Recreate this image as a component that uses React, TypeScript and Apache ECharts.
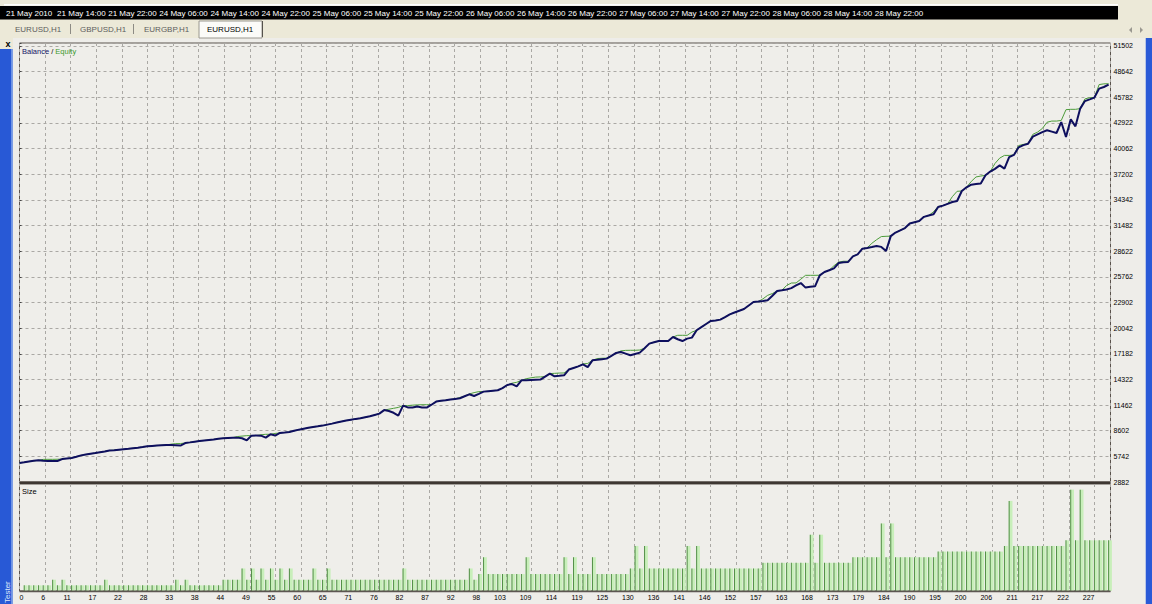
import React, { useEffect, useRef } from "react";
import * as echarts from "echarts";

const xTickLabels = ["0","6","11","17","22","28","33","38","44","49","55","60","65","71","76","82","87","92","98","103","109","114","119","125","130","136","141","146","152","157","163","168","173","179","184","190","195","200","206","211","217","222","227"];

const timeLabels = ["21 May 2010","21 May 14:00","21 May 22:00","24 May 06:00","24 May 14:00","24 May 22:00","25 May 06:00","25 May 14:00","25 May 22:00","26 May 06:00","26 May 14:00","26 May 22:00","27 May 06:00","27 May 14:00","27 May 22:00","28 May 06:00","28 May 14:00","28 May 22:00"];

const tabLabels = ["EURUSD,H1","GBPUSD,H1","EURGBP,H1","EURUSD,H1"];

// Balance (navy) per trade number 0..230
const balance = [
5000,5080,5180,5240,5300,5250,5230,5230,5220,5440,
5500,5560,5700,5850,5940,6030,6110,6200,6290,6400,
6430,6480,6530,6580,6650,6710,6780,6860,6900,6940,
6980,7010,7020,6990,6940,7230,7300,7380,7450,7510,
7570,7630,7700,7750,7800,7830,7830,7760,7530,8050,
8060,8050,7830,8200,8060,8350,8400,8460,8590,8720,
8820,8920,9020,9090,9170,9280,9390,9520,9630,9740,
9830,9920,9990,10100,10210,10360,10510,10900,10800,10600,
10290,11400,11200,11180,11300,11200,11180,11500,11850,11930,
12000,12080,12150,12220,12440,12660,12470,12700,12960,13010,
13060,13110,13350,13700,13800,13550,14220,14240,14260,14280,
14300,14640,14970,14670,14720,14780,15420,15600,15780,16000,
15700,16450,16510,16580,16640,16950,17270,17380,17200,17010,
17160,17310,17800,18310,18460,18600,18600,18600,19050,18800,
18600,18870,18980,19800,20150,20500,20840,20900,20990,21280,
21580,21780,21980,22170,22560,22950,23000,23060,23140,23650,
24180,24260,24350,24500,24800,25070,24560,24650,24700,25930,
26300,26500,26700,27300,27380,27420,28050,28270,28900,28980,
29080,29200,29100,28640,30300,30700,30950,31200,31700,31850,
31980,32450,32600,32730,33550,33700,33900,34100,34220,35330,
35750,36040,36100,36160,37080,37500,37800,38190,37830,39100,
39350,40200,40450,40610,41400,41650,41900,42100,41950,41800,
43020,41350,43320,42540,44520,45360,45550,45750,46750,46930,
47190];

// Equity (green) per trade number 0..230
const equity = [
5000,5080,5180,5240,5300,5400,5410,5410,5420,5440,
5500,5560,5700,5850,5940,6030,6110,6200,6290,6400,
6430,6480,6530,6580,6650,6710,6780,6860,6900,6940,
6980,7010,7100,7160,7170,7230,7300,7380,7450,7510,
7570,7630,7700,7750,7800,7830,7950,8000,8050,8050,
8060,8150,8200,8200,8300,8350,8400,8460,8590,8720,
8820,8920,9020,9090,9170,9280,9390,9520,9630,9740,
9830,9920,9990,10100,10210,10360,10510,10900,11000,11100,
11200,11400,11400,11450,11480,11500,11500,11500,11850,11930,
12000,12080,12150,12300,12440,12700,12850,12960,12960,13010,
13060,13110,13350,13700,13900,14000,14220,14400,14500,14580,
14600,14640,14970,15000,15030,15040,15420,15600,15780,16050,
16100,16450,16650,16680,16700,16950,17270,17500,17560,17570,
17570,17600,17800,18310,18460,18600,18600,18600,19050,19240,
19240,19240,19600,19800,20150,20500,20840,20900,20990,21280,
21580,21780,21980,22170,22560,22950,23000,23300,23700,23900,
24180,24260,24800,25070,25080,25500,25930,25930,25930,25940,
26300,26500,27000,27400,27500,27500,28050,28270,28900,28980,
29500,29900,30250,30280,30300,30700,30950,31200,31700,31850,
31980,32450,32600,33000,33600,33700,33900,34700,35300,35330,
35750,36400,36900,37000,37080,37500,38400,39000,39300,39300,
39350,40400,40530,40610,41650,41900,42300,43000,43130,43130,
43200,44400,44440,44440,44520,45600,45740,45750,47200,47280,
47300];

// Lot size per trade number 1..230
const sizes = [
0.1,0.1,0.1,0.1,0.1,0.1,0.2,0.1,0.2,0.1,
0.1,0.1,0.1,0.1,0.1,0.1,0.1,0.2,0.1,0.1,
0.1,0.1,0.1,0.1,0.1,0.1,0.1,0.1,0.1,0.1,
0.1,0.1,0.2,0.1,0.2,0.1,0.1,0.1,0.1,0.1,
0.1,0.1,0.2,0.2,0.2,0.2,0.4,0.2,0.4,0.2,
0.4,0.2,0.4,0.2,0.4,0.2,0.4,0.2,0.2,0.2,
0.2,0.4,0.2,0.2,0.4,0.2,0.2,0.2,0.2,0.2,
0.2,0.2,0.2,0.2,0.2,0.2,0.2,0.2,0.2,0.2,
0.4,0.2,0.2,0.2,0.2,0.2,0.2,0.2,0.2,0.2,
0.2,0.2,0.2,0.2,0.4,0.2,0.3,0.6,0.3,0.3,
0.3,0.3,0.3,0.3,0.3,0.3,0.6,0.3,0.3,0.3,
0.3,0.3,0.3,0.3,0.6,0.3,0.6,0.3,0.3,0.3,
0.6,0.3,0.3,0.3,0.3,0.3,0.3,0.3,0.4,0.8,
0.4,0.8,0.4,0.4,0.4,0.4,0.4,0.4,0.4,0.4,
0.8,0.4,0.8,0.4,0.4,0.4,0.4,0.4,0.4,0.4,
0.4,0.4,0.4,0.4,0.4,0.4,0.5,0.5,0.5,0.5,
0.5,0.5,0.5,0.5,0.5,0.5,1.0,0.5,1.0,0.5,
0.5,0.5,0.5,0.5,0.5,0.6,0.6,0.6,0.6,0.6,
0.6,1.2,0.6,1.2,0.6,0.6,0.6,0.6,0.6,0.6,
0.6,0.6,0.6,0.7,0.7,0.7,0.7,0.7,0.7,0.7,
0.7,0.7,0.7,0.7,0.7,0.7,0.7,0.8,1.6,0.8,
0.8,0.8,0.8,0.8,0.8,0.8,0.8,0.8,0.8,0.8,
0.9,1.8,0.9,1.8,0.9,0.9,0.9,0.9,0.9,0.9];

const Y_MIN = 2882;
const Y_STEP = 2860;
const Y_MAX = 51836;
const X_STEP = 5.405;
const X_MAX = 230.4;
const SIZE_MAX = 1.9;

const FONT = '"Liberation Sans", Arial, sans-serif';
const GRID_LINE = { color: "#aaa8a4", type: [3, 3] as number[], width: 1 };

export default function App() {
  const ref = useRef<HTMLDivElement>(null);
  useEffect(() => {
    document.body.style.margin = "0";
    const chart = echarts.init(ref.current!, null, { renderer: "svg" });

    const graphics: any[] = [];
    // window chrome: toolbar + time strip + tab bar
    graphics.push({ type: "rect", shape: { x: 0, y: 0, width: 1152, height: 38 }, style: { fill: "#ece9d8" }, z: 1 });
    graphics.push({ type: "rect", shape: { x: 4, y: 4, width: 1114, height: 1.5 }, style: { fill: "#ffffff" }, z: 2 });
    graphics.push({ type: "rect", shape: { x: 0, y: 6, width: 1118, height: 13.5 }, style: { fill: "#000000" }, z: 2 });
    timeLabels.forEach((t, i) => {
      graphics.push({ type: "text", x: 6 + i * 51.1, y: 13, z: 3, style: { text: t, fill: "#ffffff", fontSize: 8, fontFamily: FONT, verticalAlign: "middle" } });
    });
    // tabs
    const tabX = [15, 80, 144, 207];
    graphics.push({ type: "rect", shape: { x: 199, y: 21, width: 63, height: 17 }, style: { fill: "#fbfbf8", stroke: "#9a9890", lineWidth: 1 }, z: 2 });
    graphics.push({ type: "line", shape: { x1: 262.5, y1: 21, x2: 262.5, y2: 37 }, style: { stroke: "#55524c", lineWidth: 1 }, z: 3 });
    graphics.push({ type: "line", shape: { x1: 70.5, y1: 24, x2: 70.5, y2: 34 }, style: { stroke: "#8d8b84", lineWidth: 1 }, z: 3 });
    graphics.push({ type: "line", shape: { x1: 133.5, y1: 24, x2: 133.5, y2: 34 }, style: { stroke: "#8d8b84", lineWidth: 1 }, z: 3 });
    tabLabels.forEach((t, i) => {
      graphics.push({ type: "text", x: tabX[i], y: 29, z: 4, style: { text: t, fill: i === 3 ? "#000000" : "#5c5c5c", fontSize: 8, fontFamily: FONT, verticalAlign: "middle" } });
    });
    graphics.push({ type: "polygon", shape: { points: [[1132, 27], [1132, 33], [1129, 30]] }, style: { fill: "#9a9890" }, z: 3 });
    graphics.push({ type: "polygon", shape: { points: [[1140, 27], [1140, 33], [1143, 30]] }, style: { fill: "#9a9890" }, z: 3 });
    // left docked title strip
    graphics.push({ type: "rect", shape: { x: 0, y: 38, width: 13, height: 11 }, style: { fill: "#ece9d8" }, z: 1 });
    graphics.push({ type: "text", x: 8, y: 44, z: 3, style: { text: "x", fill: "#000", fontSize: 9, fontWeight: "bold", fontFamily: FONT, align: "center", verticalAlign: "middle" } });
    graphics.push({ type: "rect", shape: { x: 0, y: 49, width: 12.5, height: 555 }, style: { fill: "#2859d6" }, z: 1 });
    graphics.push({ type: "rect", shape: { x: 11, y: 49, width: 1.5, height: 555 }, style: { fill: "#6f95e6" }, z: 2 });
    graphics.push({ type: "text", x: 7, y: 603, rotation: Math.PI / 2, z: 3, style: { text: "Tester", fill: "#dfe8fb", fontSize: 8, fontFamily: FONT, verticalAlign: "middle" } });
    // right window border
    graphics.push({ type: "rect", shape: { x: 1146, y: 38, width: 6, height: 566 }, style: { fill: "#2a5ad7" }, z: 1 });
    graphics.push({ type: "rect", shape: { x: 1145, y: 38, width: 1, height: 566 }, style: { fill: "#b9c6e6" }, z: 2 });
    // panel separators
    graphics.push({ type: "rect", shape: { x: 19.5, y: 481.5, width: 1091, height: 2.5 }, style: { fill: "#3e3732" }, z: 50 });
    graphics.push({ type: "rect", shape: { x: 19.5, y: 590.5, width: 1091, height: 1.8 }, style: { fill: "#5c5651" }, z: 50 });
    // panel titles
    graphics.push({
      type: "text", x: 22, y: 51, z: 50,
      style: {
        text: "{b|Balance} / {e|Equity}", fill: "#000", fontSize: 7.5, fontFamily: FONT, verticalAlign: "middle",
        rich: { b: { fill: "#141466", fontSize: 7.5, fontFamily: FONT }, e: { fill: "#3d9a2d", fontSize: 7.5, fontFamily: FONT } },
      },
    });
    graphics.push({ type: "text", x: 22, y: 491, z: 50, style: { text: "Size", fill: "#000", fontSize: 7.5, fontFamily: FONT, verticalAlign: "middle" } });

    const option: any = {
      animation: false,
      backgroundColor: "#eeede9",
      textStyle: { fontFamily: FONT },
      graphic: { elements: graphics },
      grid: [
        { left: 19.5, top: 43, width: 1091, height: 439, show: true, backgroundColor: "#efeeea", borderColor: "#5a524c", borderWidth: 1 },
        { left: 19.5, top: 484, width: 1091, height: 107, show: true, backgroundColor: "#efeeea", borderColor: "#5a524c", borderWidth: 1 },
      ],
      xAxis: [
        {
          type: "value", gridIndex: 0, min: 0, max: X_MAX, interval: X_STEP,
          axisLine: { show: false }, axisTick: { show: false }, axisLabel: { show: false },
          splitLine: { show: true, lineStyle: GRID_LINE },
        },
        {
          type: "value", gridIndex: 1, min: 0, max: X_MAX, interval: X_STEP,
          axisLine: { show: false }, axisTick: { show: false },
          axisLabel: {
            show: true, fontSize: 7, color: "#000", margin: 3, align: "right", alignMinLabel: "left", fontFamily: FONT,
            formatter: (v: number) => {
              const k = Math.round(v / X_STEP);
              if (Math.abs(k * X_STEP - v) > 0.5 || k >= xTickLabels.length) return "";
              return xTickLabels[k];
            },
          },
          splitLine: { show: true, lineStyle: GRID_LINE },
        },
      ],
      yAxis: [
        {
          type: "value", gridIndex: 0, position: "right", min: Y_MIN, max: Y_MAX, interval: Y_STEP,
          axisLine: { show: false },
          axisTick: { show: true, length: 2, lineStyle: { color: "#444" } },
          axisLabel: {
            fontSize: 7, color: "#000", margin: 3, fontFamily: FONT,
            formatter: (v: number) => {
              const k = Math.round((v - Y_MIN) / Y_STEP);
              if (Math.abs(Y_MIN + k * Y_STEP - v) > 1) return "";
              return String(Y_MIN + k * Y_STEP);
            },
          },
          splitLine: { show: true, lineStyle: GRID_LINE },
        },
        {
          type: "value", gridIndex: 1, min: 0, max: SIZE_MAX,
          axisLine: { show: false }, axisTick: { show: false }, axisLabel: { show: false }, splitLine: { show: false },
        },
      ],
      series: [
        {
          name: "Equity", type: "line", xAxisIndex: 0, yAxisIndex: 0, symbol: "none", z: 3,
          data: equity.map((v, i) => [i, v]),
          lineStyle: { color: "#4c9c3a", width: 1 },
        },
        {
          name: "Balance", type: "line", xAxisIndex: 0, yAxisIndex: 0, symbol: "none", z: 4,
          data: balance.map((v, i) => [i, v]),
          lineStyle: { color: "#0e0f5e", width: 2 },
        },
        {
          name: "SizeFill", type: "bar", xAxisIndex: 1, yAxisIndex: 1, barWidth: 3.8, barGap: "-100%", z: 3,
          data: sizes.map((v, i) => [i + 1, v]),
          itemStyle: { color: "#c8efba" },
        },
        {
          name: "Size", type: "bar", xAxisIndex: 1, yAxisIndex: 1, barWidth: 1, barGap: "-100%", z: 4,
          data: sizes.map((v, i) => [i + 1, v]),
          itemStyle: { color: "#548e49" },
        },
      ],
    };
    chart.setOption(option);
    return () => chart.dispose();
  }, []);
  return <div ref={ref} style={{ position: "absolute", left: 0, top: 0, width: 1152, height: 604 }} />;
}
